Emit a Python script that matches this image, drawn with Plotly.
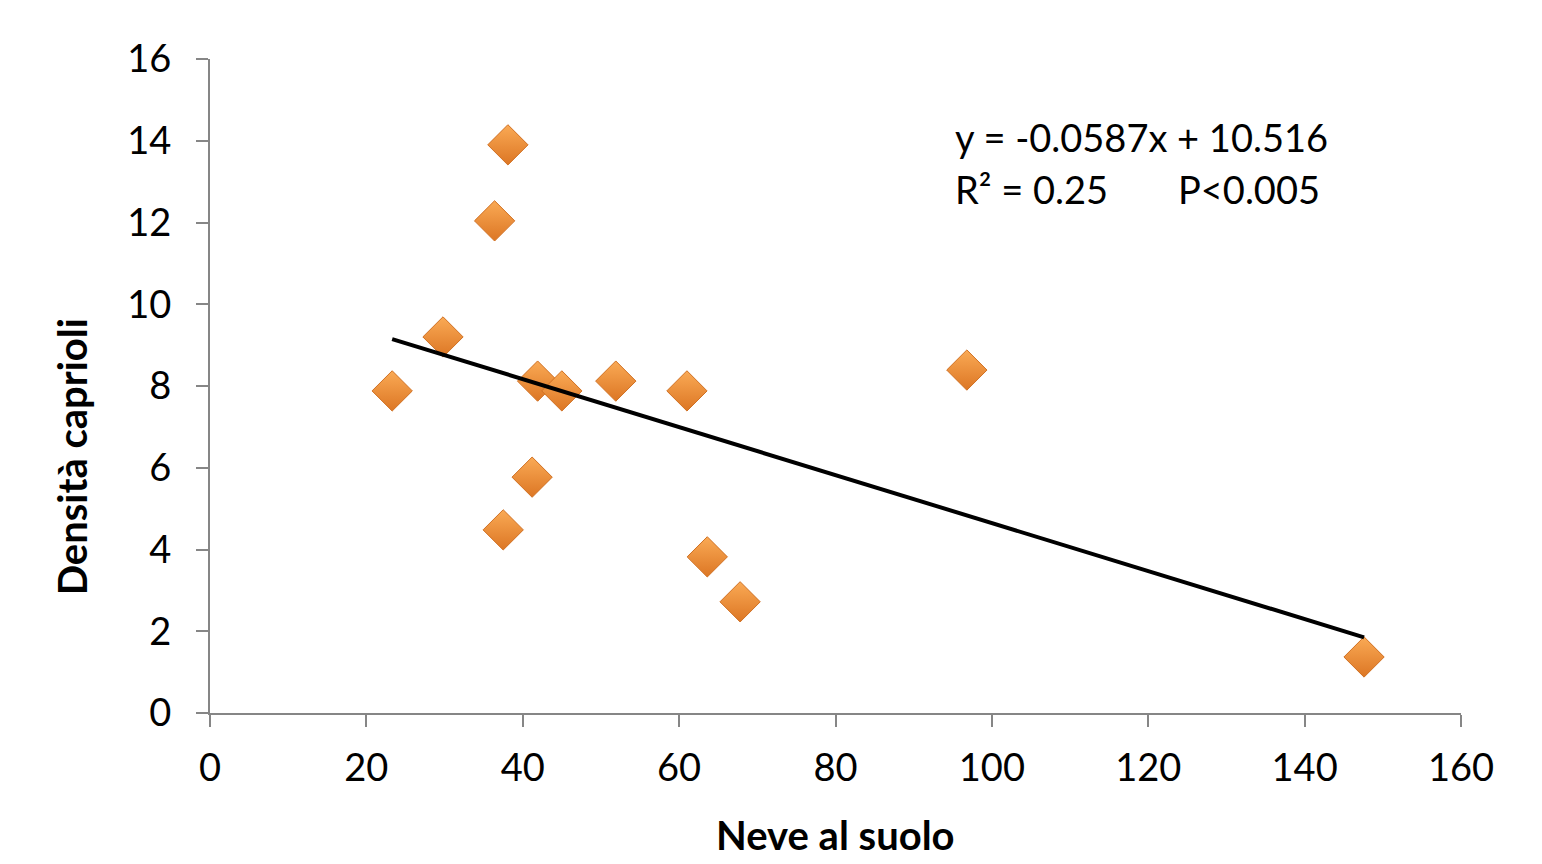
import plotly.graph_objects as go

neve = [23.3, 29.8, 36.4, 38.1, 37.5, 41.9, 41.2, 45.0, 51.9, 61.0, 63.6, 67.8, 96.8, 147.6]
densita = [7.88, 9.2, 12.04, 13.9, 4.48, 8.12, 5.77, 7.88, 8.12, 7.88, 3.82, 2.72, 8.39, 1.37]
slope = -0.0587
intercept = 10.516
eq_text = "y = -0.0587x + 10.516"
r2_text = "R² = 0.25"
p_text = "P<0.005"
x_ticks = [0, 20, 40, 60, 80, 100, 120, 140, 160]
y_ticks = [0, 2, 4, 6, 8, 10, 12, 14, 16]

FONT = "Lato"
fig = go.Figure()
fig.add_trace(go.Scatter(
    x=neve, y=densita, mode="markers",
    marker=dict(symbol="diamond", size=31, color="#FAAA55",
                gradient=dict(type="vertical", color="#DC7624"),
                line=dict(color="#D07022", width=1)),
    showlegend=False))
xs = [min(neve), max(neve)]
fig.add_trace(go.Scatter(
    x=xs, y=[slope * v + intercept for v in xs], mode="lines",
    line=dict(color="black", width=4), showlegend=False))

axis_common = dict(showgrid=False, zeroline=False, showline=True, linecolor="#868686",
                   linewidth=2, ticks="outside", ticklen=12, tickcolor="#868686", tickwidth=2,
                   tickfont=dict(family=FONT, size=38, color="black"))
fig.update_xaxes(range=[0, 160], tickvals=x_ticks, ticklabelstandoff=8, **axis_common)
fig.update_yaxes(range=[0, 16], tickvals=y_ticks, ticklabelstandoff=17, **axis_common)

tfont = dict(family=FONT, size=40, color="black")
fig.add_annotation(x=0, y=0.391, xref="paper", yref="paper", text="<b>Densità caprioli</b>",
                   showarrow=False, textangle=-90, xanchor="center", yanchor="middle",
                   xshift=-138, font=tfont)
fig.add_annotation(x=0.5, y=0, xref="paper", yref="paper", text="<b>Neve al suolo</b>",
                   showarrow=False, xanchor="center", yanchor="middle",
                   yshift=-122, font=tfont)

afont = dict(family=FONT, size=38, color="black")
fig.add_annotation(x=95.0, y=14.09, xref="x", yref="y", text=eq_text, showarrow=False,
                   xanchor="left", yanchor="middle", font=afont)
fig.add_annotation(x=95.0, y=12.82, xref="x", yref="y", text=r2_text, showarrow=False,
                   xanchor="left", yanchor="middle", font=afont)
fig.add_annotation(x=142.2, y=12.82, xref="x", yref="y", text=p_text, showarrow=False,
                   xanchor="right", yanchor="middle", font=afont)

fig.update_layout(width=1542, height=864, margin=dict(l=202, r=89, t=51, b=159),
                  plot_bgcolor="white", paper_bgcolor="white")
fig.write_html("out.html")
